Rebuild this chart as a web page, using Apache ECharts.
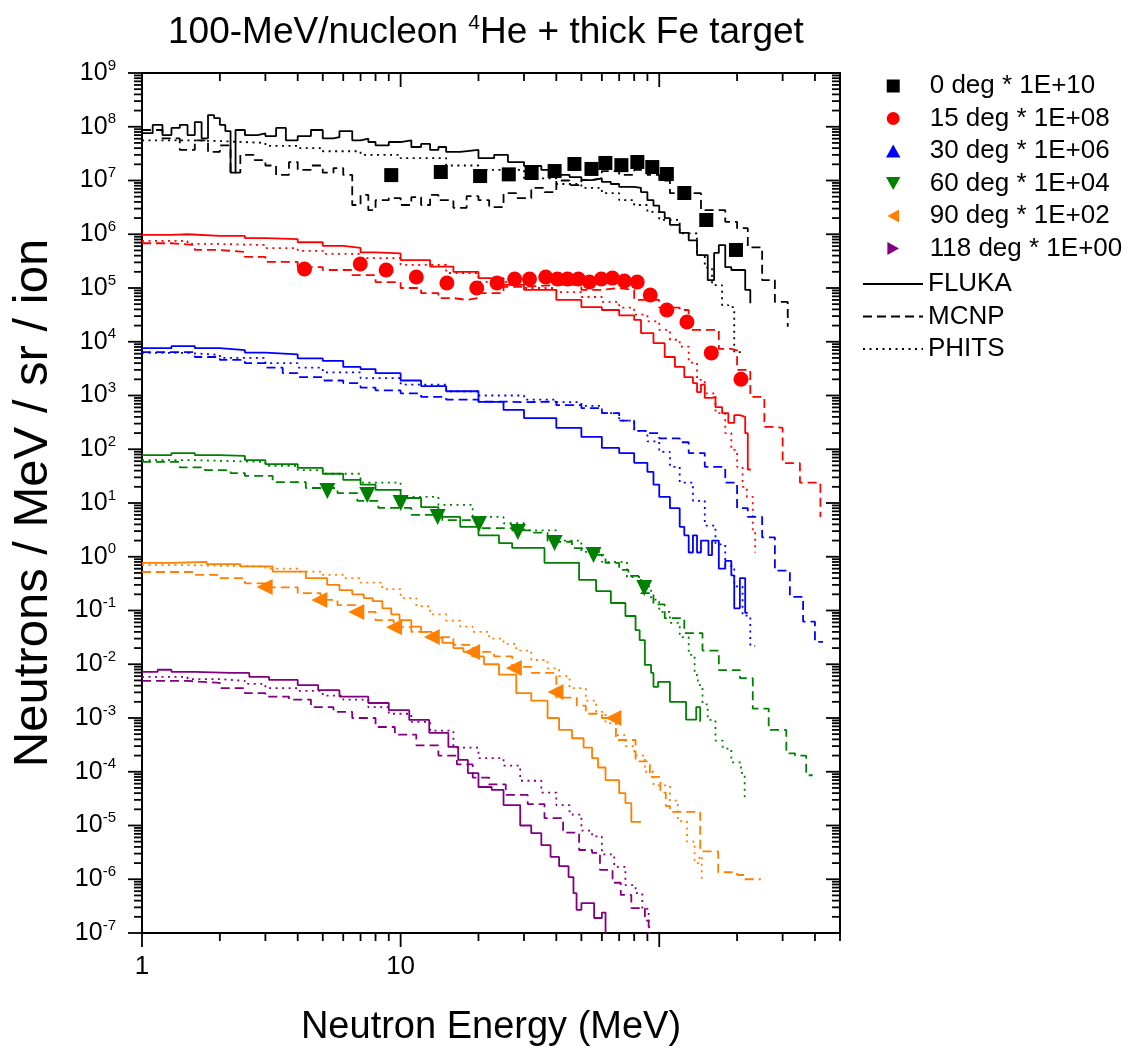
<!DOCTYPE html>
<html>
<head>
<meta charset="utf-8">
<script src="https://cdn.jsdelivr.net/npm/echarts@6/dist/echarts.min.js"></script>
<style>
html,body{margin:0;padding:0;background:#fff}
#chart{width:1137px;height:1055px}
</style>
</head>
<body>
<div id="chart"></div>
<script>
// Neutron double-differential yields, 100-MeV/nucleon 4He on thick Fe.
// Values are already multiplied by the per-angle scale factor shown in the legend.
// Each pair is [energy (MeV), yield]; model curves are histogram bins (left edge, value).

// ---- measured points ----
const EXP_0 = [[9.2,1.26e7],[14.3,1.44e7],[20.3,1.21e7],[26.2,1.3e7],[32.1,1.38e7],[39.4,1.5e7],[47,2.03e7],[54.7,1.64e7],[61.9,2.12e7],[71.4,1.93e7],[82.3,2.21e7],[94,1.78e7],[107,1.32e7],[125,5.85e6],[152,1.84e6],[198,5.1e5]];
const EXP_15 = [[4.25,2.26e5],[6.98,2.8e5],[8.79,2.16e5],[11.5,1.6e5],[15.1,1.24e5],[19.7,1.0e5],[23.6,1.24e5],[27.6,1.47e5],[31.5,1.47e5],[36.4,1.6e5],[40.4,1.47e5],[44.2,1.47e5],[48.7,1.47e5],[53.7,1.29e5],[59.7,1.47e5],[65.9,1.53e5],[73.3,1.35e5],[82.2,1.29e5],[92.3,7.4e4],[107,3.9e4],[128,2.33e4],[159,6.2e3],[207,2.0e3]];
const EXP_30 = [];
const EXP_60 = [[5.21,16.7],[7.43,14.1],[10,10],[13.9,5.5],[20.1,4.07],[28.4,2.88],[39.4,1.8],[55.7,1.08],[87.5,0.262]];
const EXP_90 = [[2.98,0.274],[4.85,0.157],[6.74,0.094],[9.44,0.049],[13.2,0.032],[18.9,0.0169],[27.4,0.0085],[39.7,0.00305],[66.5,0.001]];
const EXP_118 = [];

// ---- FLUKA ----
const FLUKA_0 = [[1,7.6e7],[1.1,1.08e8],[1.2,7e7],[1.3,9.5e7],[1.4,1.08e8],[1.5,7e7],[1.6,1.22e8],[1.7,6.1e7],[1.8,1.65e8],[1.9,1.45e8],[2,1.08e8],[2.1,8.3e7],[2.2,1.4e7],[2.3,8.7e7],[2.5,7e7],[2.8,7.5e7],[3,6.7e7],[3.3,9.5e7],[3.6,5.6e7],[4,6.7e7],[4.5,8.7e7],[5,6.1e7],[5.5,6.4e7],[5.8,8.3e7],[6.5,5.6e7],[7,6e7],[7.5,5.2e7],[8,4.5e7],[9,5.2e7],[10,5.6e7],[11,4.2e7],[12,4.8e7],[13,3.7e7],[14,4.2e7],[15,3.4e7],[17,3.7e7],[20,2.6e7],[23,3e7],[26,2.2e7],[30,1.86e7],[35,1.57e7],[40,1.27e7],[45,1.16e7],[50,1.02e7],[55,1.1e7],[60,9.4e6],[65,8.6e6],[70,7.6e6],[80,7.3e6],[85,6.1e6],[90,4.3e6],[95,3.4e6],[100,2.57e6],[105,2e6],[110,1.5e6],[120,1.06e6],[130,7.7e5],[140,4.1e5],[154,1.4e5],[163,4.5e5],[170,6.3e5],[180,2.44e5],[190,2.16e5],[215,9.2e4],[225,5.2e4]];
const FLUKA_15 = [[1,9.7e5],[1.3,1e6],[1.5,9.3e5],[2,9.3e5],[2.5,8.5e5],[3,8.1e5],[4,7.1e5],[5,6.1e5],[6,5.6e5],[7,4.6e5],[8,4.4e5],[10,3.3e5],[13,2.5e5],[16,2e5],[20,1.53e5],[25,1.14e5],[30,9.2e4],[40,6e4],[50,4.4e4],[60,3.9e4],[70,3.1e4],[80,2.55e4],[85,1.45e4],[95,9.4e3],[105,5.2e3],[115,3.4e3],[125,2.2e3],[135,1.7e3],[140,1.16e3],[145,1.6e3],[150,900],[160,940],[165,610],[175,470],[185,310],[195,430],[205,400],[215,200],[220,42],[226,42]];
const FLUKA_30 = [[1,7.6e3],[1.3,8.3e3],[1.6,7.6e3],[2,7e3],[2.5,6.3e3],[3,5.8e3],[4,4.9e3],[5,4.4e3],[6,3.4e3],[7,3.1e3],[8,2.6e3],[10,1.9e3],[12,1.5e3],[15,1.2e3],[20,760],[25,540],[30,380],[40,250],[50,170],[60,106],[70,85],[80,56],[90,38],[95,22],[100,13],[110,8],[120,3.6],[125,2.5],[130,1.2],[135,2.5],[140,1.2],[145,2],[155,1.07],[160,2],[170,0.6],[180,0.84],[190,0.45],[195,0.11],[205,0.4],[215,0.09],[220,0.09]];
const FLUKA_60 = [[1,78],[1.3,85],[1.6,78],[2,75],[2.5,63],[3,53],[4,45],[5,35],[6,27],[7,22],[8,17.5],[10,12.4],[12,8.4],[14,5.5],[17,3.6],[20,2.5],[24,1.8],[27,1.46],[36,0.77],[49,0.37],[57,0.23],[65,0.138],[74,0.079],[81,0.043],[84,0.028],[88,0.0097],[93,0.0069],[95,0.0038],[99,0.0047],[110,0.002],[127,9.3e-4],[139,0.0016],[144,8.5e-4]];
const FLUKA_90 = [[1,0.77],[1.3,0.8],[1.78,0.73],[2.4,0.66],[3.2,0.53],[4.3,0.4],[5.2,0.3],[5.8,0.24],[6.5,0.2],[7.2,0.17],[7.8,0.15],[8.5,0.11],[9.2,0.085],[9.9,0.066],[11,0.05],[12,0.04],[13.2,0.031],[14.5,0.025],[16,0.02],[17.5,0.017],[18.9,0.014],[21,0.01],[24,0.0064],[28,0.0029],[32,0.0021],[37,0.001],[41,6e-4],[46,4.2e-4],[51,2.8e-4],[55,1.8e-4],[58,1.2e-4],[62,7e-5],[70,4e-5],[74,2.6e-5],[78,1.17e-5],[85,1.17e-5]];
const FLUKA_118 = [[1,7.2e-3],[1.15,7.9e-3],[1.3,7.2e-3],[1.6,6.9e-3],[2.2,6.9e-3],[2.6,5.8e-3],[3.1,5.1e-3],[4,4.1e-3],[4.8,3.3e-3],[5.8,2.5e-3],[7.5,1.9e-3],[9,1.4e-3],[10.8,9.2e-4],[12.9,5.3e-4],[15.3,2.9e-4],[16.7,1.66e-4],[18.2,9.4e-5],[20,5.2e-5],[22.5,4.6e-5],[25,2.4e-5],[29,1e-5],[32,7.2e-6],[35,4.3e-6],[38,2.6e-6],[41,1.75e-6],[44.6,1.1e-6],[46.6,5.5e-7],[47.9,2.7e-7],[50,3.6e-7],[56,1.9e-7],[60,2.4e-7],[62,5e-8]];

// ---- MCNP ----
const MCNP_0 = [[1,8.7e7],[1.2,6.1e7],[1.4,3.7e7],[1.6,5.6e7],[1.8,3.4e7],[2,4.5e7],[2.2,1.4e7],[2.4,3e7],[2.7,2.4e7],[3,1.9e7],[3.3,1.27e7],[3.7,2.2e7],[4,1.57e7],[4.5,1.9e7],[5,1.4e7],[5.5,1.7e7],[6,1.27e7],[6.5,3.5e6],[7,5.4e6],[7.5,2.8e6],[8,4.3e6],[9,4.7e6],[10,3.5e6],[11,4.9e6],[12,3.5e6],[13,5.4e6],[14,4.3e6],[16,3.1e6],[18,5.1e6],[20,4.3e6],[22,3.2e6],[25,5.8e6],[28,4.7e6],[32,7.3e6],[36,6.1e6],[40,1e7],[45,8.2e6],[50,1.02e7],[55,1.1e7],[60,1.5e7],[70,1.27e7],[80,1.57e7],[90,1.27e7],[100,1e7],[110,5.8e6],[130,5.8e6],[145,2.8e6],[165,2.8e6],[180,1.7e6],[200,1.3e6],[220,5.7e5],[250,1.4e5],[280,5.5e4],[314,1.9e4]];
const MCNP_15 = [[1,6.8e5],[1.3,6.3e5],[1.6,5.1e5],[2,4.7e5],[2.5,3.8e5],[3,3.05e5],[4,2.45e5],[5,2.16e5],[6.5,1.74e5],[8,1.29e5],[10,1e5],[12,8e4],[14,6.5e4],[16,6e4],[18,6.5e4],[20,8e4],[25,1.05e5],[30,1.14e5],[40,1.14e5],[50,9.2e4],[60,1e5],[70,9.2e4],[80,6e4],[100,4.3e4],[120,3.9e4],[130,1.66e4],[150,1.66e4],[170,7.4e3],[190,6.9e3],[200,3e3],[215,3e3],[225,940],[240,940],[255,260],[280,250],[300,55],[340,55],[350,24],[400,24],[420,5.5]];
const MCNP_30 = [[1,6.4e3],[1.3,6.4e3],[1.6,5.2e3],[2,4.6e3],[2.5,4e3],[3,3.3e3],[3.5,2.6e3],[4,2.2e3],[5,1.9e3],[6,1.7e3],[7,1.4e3],[8,1.25e3],[10,1.1e3],[12,940],[15,840],[20,770],[25,750],[30,770],[40,660],[50,580],[60,470],[70,340],[80,220],[90,200],[100,160],[120,135],[130,85],[150,47],[180,24],[200,8],[220,5.5],[250,2.3],[280,0.55],[320,0.18],[360,0.062],[400,0.026],[430,0.026]];
const MCNP_60 = [[1,58],[1.15,58],[1.4,46],[1.75,41],[2.2,36],[2.5,32],[3.2,24.5],[4.3,19],[5.7,15.3],[6.8,11],[8.2,8.1],[11,6],[14.5,4.8],[20,3.4],[27,3.1],[32,2.8],[37,1.9],[46,1.45],[55,1.08],[62,0.77],[70,0.57],[76,0.44],[85,0.21],[95,0.13],[105,0.072],[125,0.038],[147,0.018],[170,0.0078],[205,0.0055],[230,0.0015],[265,6e-4],[310,2.2e-4],[335,2e-4],[370,8.6e-5],[392,8.6e-5]];
const MCNP_90 = [[1,0.52],[1.3,0.52],[1.6,0.46],[2,0.4],[2.5,0.32],[3,0.27],[4,0.21],[4.9,0.157],[5.7,0.126],[6.7,0.094],[8,0.066],[9.4,0.049],[11,0.04],[13.2,0.032],[16,0.023],[19,0.017],[23,0.014],[27,0.0089],[32,0.0069],[40,0.0024],[48,0.0017],[52,0.0012],[60,0.001],[68,3.9e-4],[81,1.56e-4],[92,8e-5],[101,4.1e-5],[106,2.3e-5],[110,1.8e-5],[144,3.3e-6],[169,1.35e-6],[200,1.2e-6],[214,1e-6],[247,1e-6]];
const MCNP_118 = [[1,4.9e-3],[1.3,4.9e-3],[1.5,4.5e-3],[2,3.6e-3],[2.5,2.9e-3],[3,2.5e-3],[3.7,2.2e-3],[4.5,1.6e-3],[5.5,1.3e-3],[6.5,1e-3],[8,6.8e-4],[9.5,4.9e-4],[11.5,3.1e-4],[14,2e-4],[16.5,1.37e-4],[19,7.8e-5],[22,5.8e-5],[25.5,3.7e-5],[31,2.5e-5],[36,1.37e-5],[42.5,7.4e-6],[49,3.5e-6],[55,3.1e-6],[59,1.5e-6],[66,8.6e-7],[71,5.1e-7],[78,2.9e-7],[88,1.7e-7],[91,5e-8]];

// ---- PHITS ----
const PHITS_0 = [[1,5.6e7],[1.5,5.4e7],[2,5e7],[3,4.4e7],[4,4e7],[5,3.5e7],[7,3e7],[10,2.6e7],[15,1.9e7],[20,1.57e7],[30,1.1e7],[40,8.6e6],[50,7.3e6],[60,5.8e6],[70,4.3e6],[80,3.5e6],[90,2.6e6],[100,1.85e6],[120,1.04e6],[140,4.1e5],[150,2.4e5],[160,1.13e5],[175,4.8e4],[185,4.4e4],[195,6.4e3],[215,6.4e3]];
const PHITS_15 = [[1,7.5e5],[1.5,6.6e5],[2,6.3e5],[3,5.5e5],[4,4.9e5],[5,4.3e5],[7,3.6e5],[10,2.7e5],[15,1.9e5],[20,1.3e5],[30,1e5],[40,8.4e4],[50,6.8e4],[60,5.5e4],[70,4.3e4],[80,3.2e4],[90,2.4e4],[100,1.66e4],[110,1.09e4],[120,8.1e3],[130,4.1e3],[140,1.95e3],[150,1.1e3],[165,470],[180,200],[190,97],[200,47],[210,20],[218,13],[230,3.2],[235,1.2]];
const PHITS_30 = [[1,6.2e3],[1.5,5.7e3],[2,5e3],[3,4e3],[4,3.3e3],[5,2.7e3],[7,2.1e3],[10,1.6e3],[15,1.2e3],[20,1e3],[30,840],[40,750],[50,640],[60,470],[70,340],[80,220],[90,140],[100,89],[110,47],[120,24],[135,11],[150,3.8],[165,1.7],[180,0.67],[195,0.28],[210,0.08],[225,0.022],[235,0.022]];
const PHITS_60 = [[1,63],[1.5,61],[2,58],[3,49],[4,41],[5,35],[7,24],[10,13],[14,9.2],[19,5.5],[25,4.2],[30,3.1],[40,2],[50,1.23],[60,0.8],[75,0.42],[85,0.28],[93,0.16],[100,0.094],[110,0.059],[120,0.032],[130,0.015],[137,0.0063],[141,0.0041],[147,0.0018],[154,9.2e-4],[165,3.8e-4],[176,2.7e-4],[190,1.5e-4],[207,9.5e-5],[214,3e-5]];
const PHITS_90 = [[1,0.7],[1.5,0.68],[2,0.66],[3,0.6],[4,0.53],[5,0.46],[6,0.4],[7,0.33],[8.5,0.25],[10,0.17],[11.5,0.12],[13,0.085],[15,0.065],[17,0.05],[19,0.04],[22,0.03],[25,0.024],[28,0.018],[32,0.012],[37,0.0084],[41,0.006],[45,0.0036],[52,0.0021],[57,0.0013],[62,8e-4],[68,4.8e-4],[74,3e-4],[80,2e-4],[88,1e-4],[95,5.6e-5],[110,2.9e-5],[118,1.2e-5],[128,5e-6],[137,2e-6],[143,2.7e-6],[146,8.5e-7]];
const PHITS_118 = [[1,5.8e-3],[1.5,5.3e-3],[2,4.9e-3],[2.5,4.3e-3],[3,3.6e-3],[4,3.2e-3],[5,2.6e-3],[6,2.2e-3],[7.5,1.6e-3],[9,1.2e-3],[11,8.5e-4],[13,5.8e-4],[16,2.8e-4],[20,1.8e-4],[25,1.3e-4],[29,6.8e-5],[35,4.1e-5],[40,2.4e-5],[45,1.6e-5],[50,8e-6],[55,6.3e-6],[60,2.9e-6],[67,1.7e-6],[74,7.8e-7],[81,5.5e-7],[86,2.8e-7],[91,1.8e-7],[92,9e-8]];

// ---- axis labels and legend entries ----
const X_LABELS = [1, 10, 100];
const Y_LABELS = [1e-7,1e-6,1e-5,1e-4,1e-3,1e-2,1e-1,1,1e1,1e2,1e3,1e4,1e5,1e6,1e7,1e8,1e9];
const ANGLE_NAMES = ['0 deg * 1E+10','15 deg * 1E+08','30 deg * 1E+06','60 deg * 1E+04','90 deg * 1E+02','118 deg * 1E+00'];
const MODEL_NAMES = ['FLUKA','MCNP','PHITS'];

// ---- styling per angle / model ----
const ANGLES = [
  {name: ANGLE_NAMES[0], color:'#000000', symbol:'rect', rotate:0, size:14, icon:'path://M0,0H10V10H0Z', exp:EXP_0, curves:[FLUKA_0, MCNP_0, PHITS_0]},
  {name: ANGLE_NAMES[1], color:'#ff0000', symbol:'circle', rotate:0, size:15, icon:'circle', exp:EXP_15, curves:[FLUKA_15, MCNP_15, PHITS_15]},
  {name: ANGLE_NAMES[2], color:'#0000ff', symbol:'triangle', rotate:0, size:15, icon:'path://M5,0L10,9H0Z', exp:EXP_30, curves:[FLUKA_30, MCNP_30, PHITS_30]},
  {name: ANGLE_NAMES[3], color:'#008000', symbol:'triangle', rotate:180, size:16, icon:'path://M0,0H10L5,9Z', exp:EXP_60, curves:[FLUKA_60, MCNP_60, PHITS_60]},
  {name: ANGLE_NAMES[4], color:'#ff8000', symbol:'triangle', rotate:90, size:16, icon:'path://M0,5L9,0V10Z', exp:EXP_90, curves:[FLUKA_90, MCNP_90, PHITS_90]},
  {name: ANGLE_NAMES[5], color:'#800080', symbol:'triangle', rotate:-90, size:15, icon:'path://M0,0L9,5L0,10Z', exp:EXP_118, curves:[FLUKA_118, MCNP_118, PHITS_118]}
];
const MODEL_DASH = ['solid', [9, 5], [2, 4.5]];

// tick positions for the frame (majors at decades, minors at 2..9 x decade)
const X_TICKS = [];
[1, 10, 100].forEach(d => {
  X_TICKS.push([d, 1, 1]);
  for (let k = 2; k <= 9; k++) if (k * d <= 500) X_TICKS.push([k * d, 1, 0]);
});
const Y_TICKS = [];
for (let e = -7; e <= 9; e++) {
  const d = Math.pow(10, e);
  Y_TICKS.push([1, d, 1]);
  if (e < 9) for (let k = 2; k <= 9; k++) Y_TICKS.push([1, k * d, 0]);
}

const FONT = "'Liberation Sans', Arial, sans-serif";

function frameTicks(params, api) {
  const cs = params.coordSys;
  const len = api.value(2) === 1 ? 14 : 8;
  const st = {stroke: '#000', lineWidth: 1.8};
  if (params.seriesName === 'xticks') {
    const x = api.coord([api.value(0), 1])[0];
    const yb = cs.y + cs.height, yt = cs.y;
    return {type: 'group', children: [
      {type: 'line', shape: {x1: x, y1: yb, x2: x, y2: yb + len}, style: st},
      {type: 'line', shape: {x1: x, y1: yt, x2: x, y2: yt + len}, style: st}
    ]};
  }
  const y = api.coord([1, api.value(1)])[1];
  const xl = cs.x, xr = cs.x + cs.width;
  return {type: 'group', children: [
    {type: 'line', shape: {x1: xl - len, y1: y, x2: xl, y2: y}, style: st},
    {type: 'line', shape: {x1: xr - len, y1: y, x2: xr, y2: y}, style: st}
  ]};
}

const LINE_W = 1.8;
const series = [];
// black reference entries for the model legend (line only, marker hidden)
MODEL_NAMES.forEach((m, i) => series.push({
  name: m, type: 'line', data: [], symbol: 'none',
  lineStyle: {color: '#000', width: LINE_W, type: MODEL_DASH[i]}, itemStyle: {color: '#000', opacity: 0}
}));
ANGLES.forEach(a => {
  a.curves.forEach((c, i) => series.push({
    name: MODEL_NAMES[i], type: 'line', step: 'end', data: c, symbol: 'none', silent: true,
    lineStyle: {color: a.color, width: LINE_W, type: MODEL_DASH[i]}, itemStyle: {color: a.color}
  }));
});
ANGLES.forEach(a => series.push({
  name: a.name, type: 'scatter', data: a.exp, symbol: a.symbol, symbolRotate: a.rotate,
  symbolSize: a.size, itemStyle: {color: a.color, opacity: 1}, z: 4
}));
series.push({name: 'xticks', type: 'custom', data: X_TICKS, renderItem: frameTicks, silent: true, clip: false, z: 5});
series.push({name: 'yticks', type: 'custom', data: Y_TICKS, renderItem: frameTicks, silent: true, clip: false, z: 5});

const legendText = {fontSize: 26, lineHeight: 24, color: '#000', fontFamily: FONT};

const chart = echarts.init(document.getElementById('chart'), null, {renderer: 'canvas'});
chart.setOption({
  animation: false,
  backgroundColor: '#fff',
  textStyle: {fontFamily: FONT, color: '#000'},
  title: {
    text: '100-MeV/nucleon {s|4}He + thick Fe target',
    left: 163, top: 8,
    textStyle: {fontSize: 37, fontWeight: 'normal', color: '#000', fontFamily: FONT, lineHeight: 40,
      rich: {s: {fontSize: 21, verticalAlign: 'top', fontFamily: FONT, color: '#000'}}}
  },
  grid: {left: 142, right: 297, top: 73, bottom: 122, show: true, borderColor: '#000', borderWidth: 2, backgroundColor: 'transparent'},
  legend: [
    {data: ANGLES.map(a => ({name: a.name, icon: a.icon})), orient: 'vertical', left: 881, top: 68,
     itemWidth: 63, itemHeight: 13, itemGap: 6.5, selectedMode: false, textStyle: legendText},
    {data: MODEL_NAMES, orient: 'vertical', left: 857, top: 266, itemWidth: 60, itemHeight: 14, itemGap: 6.5,
     selectedMode: false, itemStyle: {opacity: 0}, textStyle: legendText}
  ],
  xAxis: {
    type: 'log', logBase: 10, min: 1, max: 500,
    axisLine: {show: true, lineStyle: {color: '#000', width: 2}},
    axisTick: {show: false}, splitLine: {show: false}, minorTick: {show: false},
    axisLabel: {customValues: X_LABELS, formatter: v => String(Math.round(v)), fontSize: 26, color: '#000', margin: 21, fontFamily: FONT, showMaxLabel: false},
    name: 'Neutron Energy (MeV)', nameLocation: 'middle', nameGap: 76,
    nameTextStyle: {fontSize: 38, color: '#000', fontFamily: FONT}
  },
  yAxis: {
    type: 'log', logBase: 10, min: 1e-7, max: 1e9,
    axisLine: {show: true, lineStyle: {color: '#000', width: 2}},
    axisTick: {show: false}, splitLine: {show: false}, minorTick: {show: false},
    axisLabel: {customValues: Y_LABELS, formatter: v => '10{s|' + Math.round(Math.log10(v)) + '}',
      fontSize: 25, lineHeight: 30, color: '#000', margin: 26, fontFamily: FONT,
      rich: {s: {fontSize: 15, verticalAlign: 'top', fontFamily: FONT, color: '#000'}}},
    name: 'Neutrons / MeV / sr / ion', nameLocation: 'middle', nameGap: 84,
    nameTextStyle: {fontSize: 49, color: '#000', fontFamily: FONT}
  },
  series: series
});
</script>
</body>
</html>
